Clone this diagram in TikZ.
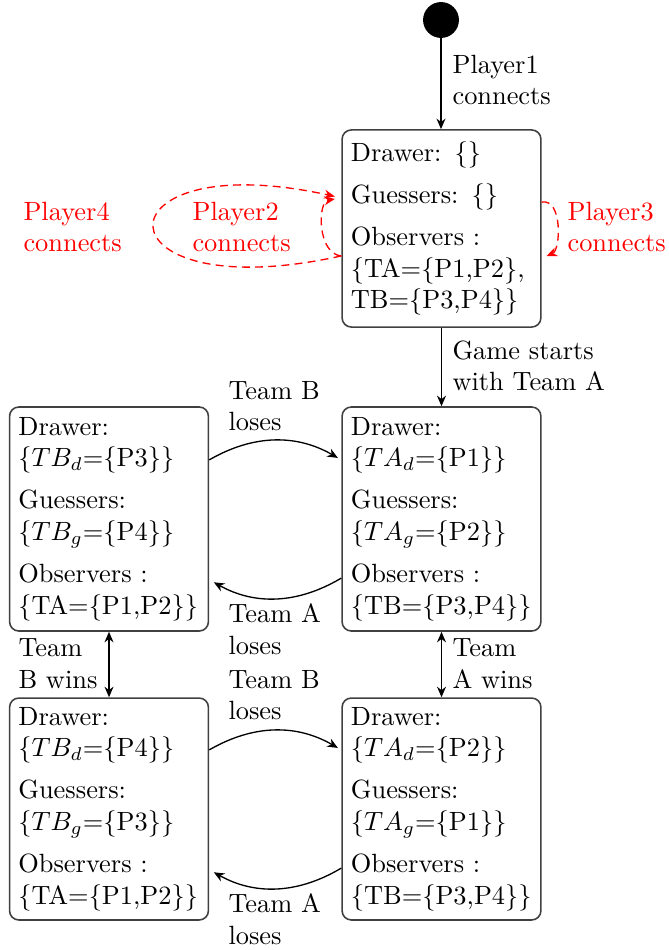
\documentclass[tikz,border=0pt]{standalone}
\usetikzlibrary{arrows.meta}
\begin{document}
\begin{tikzpicture}[x=0.379pt, y=-0.379pt,
  state/.style={draw=black!75, line width=0.6pt, rounded corners=3.5pt,
    align=left, text width=68.7pt, inner xsep=3.33pt, inner ysep=3pt},
  lbl/.style={anchor=west, align=left, inner sep=0pt},
  plbl/.style={lbl, text=red},
  flow/.style={line width=0.5pt, -{Stealth[length=4pt,width=3.4pt]}},
  twoway/.style={line width=0.5pt,
    {Stealth[length=4pt,width=3.4pt]}-{Stealth[length=4pt,width=3.4pt]}},
  joinloop/.style={red, dash pattern=on 3pt off 2pt, line width=0.5pt,
    -{Stealth[length=4pt,width=3.4pt]}}
]
\useasboundingbox (0,0) rectangle (669,950);

% initial state and lobby
\node[circle, fill=black, minimum size=13.6pt, inner sep=0pt] (init) at (441,20) {};
\node[state, minimum height=74.7pt] (s0) at (441.5,228.5)
  {Drawer:\hspace{0.5em}\{\}\\[4pt]Guessers:\hspace{0.5em}\{\}\\[4pt]Observers :\\\{TA=\{P1,P2\},\\TB=\{P3,P4\}\}};

% game states
\node[state, minimum height=84.9pt] (a1) at (441.5,519)
  {Drawer:\\\{$TA_d$=\{P1\}\}\\[4pt]Guessers:\\\{$TA_g$=\{P2\}\}\\[4pt]Observers :\\\{TB=\{P3,P4\}\}};
\node[state, minimum height=84.9pt] (b1) at (109,519)
  {Drawer:\\\{$TB_d$=\{P3\}\}\\[4pt]Guessers:\\\{$TB_g$=\{P4\}\}\\[4pt]Observers :\\\{TA=\{P1,P2\}\}};
\node[state, minimum height=84.1pt] (b2) at (109,809)
  {Drawer:\\\{$TB_d$=\{P4\}\}\\[4pt]Guessers:\\\{$TB_g$=\{P3\}\}\\[4pt]Observers :\\\{TA=\{P1,P2\}\}};
\node[state, minimum height=84.1pt] (a2) at (441.5,809)
  {Drawer:\\\{$TA_d$=\{P2\}\}\\[4pt]Guessers:\\\{$TA_g$=\{P1\}\}\\[4pt]Observers :\\\{TB=\{P3,P4\}\}};

% transitions
\draw[flow] (init) -- (init |- s0.north);
\draw[flow] (s0) -- (a1);
\draw[twoway] (b1) -- (b2);
\draw[twoway] (a1) -- (a2);

\draw[flow, shorten >=1.5pt] ([yshift=22.4pt]b1.east) to[bend left=30] ([yshift=22.4pt]a1.west);
\draw[flow, shorten >=2pt] ([yshift=-22.4pt]a1.west) to[bend left=30] ([yshift=-23pt]b1.east);
\draw[flow, shorten >=1.5pt] ([yshift=22.4pt]b2.east) to[bend left=30] ([yshift=22.4pt]a2.west);
\draw[flow, shorten >=2pt] ([yshift=-22.4pt]a2.west) to[bend left=30] ([yshift=-23pt]b2.east);

% players joining the lobby
\draw[joinloop, shorten >=2.5pt] ([yshift=-10.4pt]s0.west)
  .. controls +(-249,55) and +(-249,-55) .. ([yshift=11.6pt]s0.west);
\draw[joinloop, shorten >=2.5pt] ([yshift=-10.4pt]s0.west)
  .. controls +(-24,-2) and +(-24,4) .. ([yshift=11.6pt]s0.west);
\draw[joinloop, shorten >=2pt] ([yshift=10pt]s0.east)
  .. controls +(21,-4) and +(19,-8) .. ([yshift=-11.2pt]s0.east);

% labels
\node[lbl] (l1) at (452,80) {Player1\\connects};
\node[lbl] (l2) at (452,366) {Game starts\\with Team A};
\node[lbl] (l3) at (228,406) {Team B\\loses};
\node[lbl] (l4) at (228,629) {Team A\\loses};
\node[lbl] (l5) at (18,664) {Team\\B wins};
\node[lbl] (l6) at (452,664) {Team\\A wins};
\node[lbl] (l7) at (228,695) {Team B\\loses};
\node[lbl] (l8) at (228,919) {Team A\\loses};
\node[plbl] (p4) at (23,227) {Player4\\connects};
\node[plbl] (p2) at (192,227) {Player2\\connects};
\node[plbl] (p3) at (567,227) {Player3\\connects};
\end{tikzpicture}
\end{document}
